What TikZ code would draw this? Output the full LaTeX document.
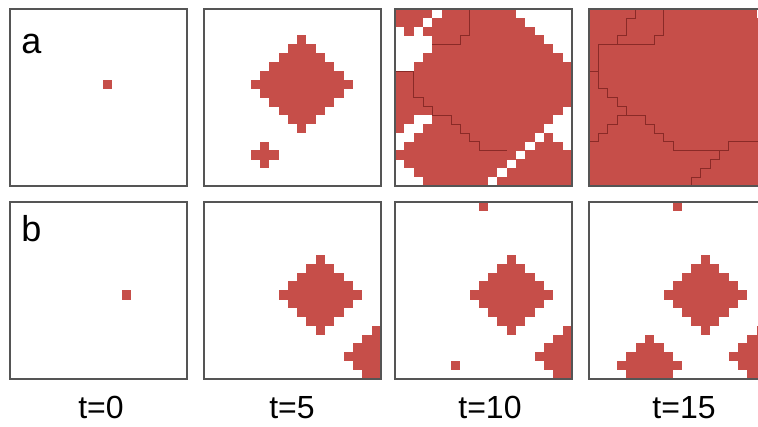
\documentclass[tikz,border=0pt]{standalone}
\usepackage{fontspec}
\setmainfont{Liberation Sans}
\definecolor{cellred}{HTML}{C64E49}
\definecolor{bline}{HTML}{8A2A27}
\definecolor{framegray}{HTML}{555555}
\tikzset{
  panel/.style 2 args={shift={(#1,#2)}, x=6.98684pt, y=-6.6375pt},
  frame/.style={draw=framegray, line width=1.1pt},
  bound/.style={draw=bline, line width=0.5pt},
  tlabel/.style={font=\fontsize{24}{28}\selectfont, anchor=base, inner sep=0pt},
  plabel/.style={font=\fontsize{27}{30}\selectfont, anchor=base west, inner sep=0pt},
}
\newcommand\rcell[2]{\fill[cellred] (#1,#2-0.02) rectangle (#1+1,#2+1.02);}
\newcommand\rdiam[3]{%
  \foreach \dr in {-#3,...,#3}{%
    \pgfmathtruncatemacro\rr{#2+(\dr)}%
    \pgfmathtruncatemacro\hw{#3-abs(\dr)}%
    \pgfmathtruncatemacro\cl{max(0,#1-\hw)}%
    \pgfmathtruncatemacro\cR{min(18,#1+\hw)}%
    \ifnum\rr>-1 \ifnum\rr<20 \ifnum\cl>\cR\relax\else
      \fill[cellred] (\cl,\rr-0.02) rectangle (\cR+1,\rr+1.02);
    \fi\fi\fi}}
\begin{document}
\begin{tikzpicture}[x=0.75pt,y=-0.75pt]
\useasboundingbox (0,0) rectangle (758,426);
\clip (0,0) rectangle (758,426);
% ---------- row a ----------
\begin{scope}[panel={10}{9}]
  \rcell{10}{8}
  \draw[frame] (0,0) rectangle (19,20);
\end{scope}
\begin{scope}[panel={204}{9}]
  \rdiam{10}{8}{5}
  \rdiam{6}{16}{1}
  \draw[frame] (0,0) rectangle (19,20);
\end{scope}
\begin{scope}[panel={395}{9}]
  \rdiam{10}{8}{10}
  \rdiam{6}{16}{6}
  \rdiam{16}{19}{5}
  \rdiam{7}{2}{4}
  \rdiam{-3}{10}{6}
  \rdiam{1}{0}{2}
  \draw[bound] (8,0)--(8,3)--(7,3)--(7,4)--(4,4);
  \draw[bound] (0,7)--(2,7)--(2,10)--(3,10)--(3,11)--(4,11)--(4,12);
  \draw[bound] (4,12)--(6,12)--(6,13)--(7,13)--(7,14)--(8,14)--(8,15)--(9,15)--(9,16)--(12,16);
  \draw[frame] (0,0) rectangle (19,20);
\end{scope}
\begin{scope}[panel={589}{9}]
  \fill[cellred] (0,0) rectangle (19,20);
  \fill[white] (18,0) rectangle (19,1);
  \draw[bound] (5,0)--(5,1)--(4,1)--(4,3)--(3,3)--(3,4);
  \draw[bound] (8,0)--(8,3)--(7,3)--(7,4)--(1,4);
  \draw[bound] (1,4)--(1,9)--(2,9)--(2,10)--(3,10)--(3,11)--(4,11)--(4,12);
  \draw[bound] (0,7)--(1,7);
  \draw[bound] (4,12)--(6,12)--(6,13)--(7,13)--(7,14)--(8,14)--(8,15)--(9,15)--(9,16)--(15,16);
  \draw[bound] (15,16)--(15,15)--(19,15);
  \draw[bound] (15,16)--(14,16)--(14,17)--(13,17)--(13,18)--(12,18)--(12,19)--(11,19)--(11,20);
  \draw[bound] (4,12)--(3,12)--(3,13)--(2,13)--(2,14)--(1,14)--(1,15)--(0,15);
  \draw[frame] (0,0) rectangle (19,20);
\end{scope}
% ---------- row b ----------
\begin{scope}[panel={10}{202}]
  \rcell{12}{10}
  \draw[frame] (0,0) rectangle (19,20);
\end{scope}
\begin{scope}[panel={204}{202}]
  \rdiam{12}{10}{4}
  \rdiam{19}{17}{4}
  \draw[frame] (0,0) rectangle (19,20);
\end{scope}
\begin{scope}[panel={395}{202}]
  \rdiam{12}{10}{4}
  \rdiam{19}{17}{4}
  \rcell{9}{0}
  \rcell{6}{18}
  \draw[frame] (0,0) rectangle (19,20);
\end{scope}
\begin{scope}[panel={589}{202}]
  \rdiam{12}{10}{4}
  \rdiam{19}{17}{4}
  \rcell{9}{0}
  \rdiam{6}{18}{3}
  \draw[frame] (0,0) rectangle (19,20);
\end{scope}
% ---------- labels ----------
\node[plabel] (la) at (21,53) {a};
\node[plabel] (lb) at (21,241) {b};
\node[tlabel] (t0) at (101,418) {t=0};
\node[tlabel] (t5) at (292,418) {t=5};
\node[tlabel] (t10) at (490,418) {t=10};
\node[tlabel] (t15) at (684,418) {t=15};
\end{tikzpicture}
\end{document}
